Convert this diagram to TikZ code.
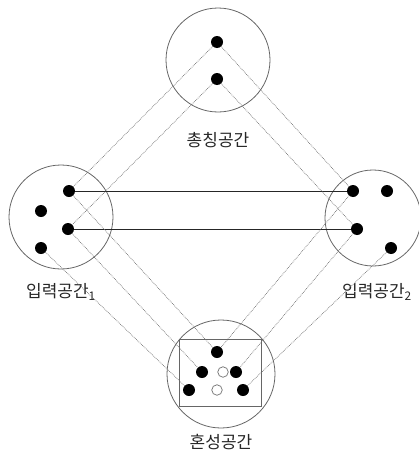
\documentclass[tikz,border=0pt]{standalone}
\usepackage{fontspec}
\newfontfamily\kor{Noto Sans CJK KR}
\usetikzlibrary{positioning}
\definecolor{Ring}{HTML}{666666}
\definecolor{Trace}{HTML}{707070}
\tikzset{
  space/.style={circle,draw=Ring,line width=.8pt,inner sep=0pt},
  pt/.style={circle,fill=black,minimum size=12pt,inner sep=0pt},
  hole/.style={circle,draw=Trace,fill=white,line width=.7pt,minimum size=10.5pt,inner sep=0pt},
  map/.style={densely dotted,draw=Trace,line width=.7pt},
  link/.style={draw=black!85,line width=.8pt},
  frame/.style={draw=Ring,line width=1pt},
  lab/.style={font=\kor\fontsize{17}{19}\selectfont,text=black!85,inner sep=0pt}
}
\begin{document}
\begin{tikzpicture}[x=1pt,y=-1pt]
    \useasboundingbox (0,0) rectangle (419,455);
    % spaces
    \node[space,minimum size=104pt] (gen) at (218,60) {};
    \node[space,minimum size=104pt] (inA) at (61,217) {};
    \node[space,minimum size=96pt] (inB) at (373,218) {};
    \node[space,minimum size=108pt] (bl) at (221,374) {};
    \draw[frame] (179,339) rectangle (261,406);
    % labels
    \node[lab] (genlab) at (218,140) {총칭공간};
    \node[lab] (inAlab) at (61,292) {입력공간\textsubscript{1}};
    \node[lab] (inBlab) at (377,292) {입력공간\textsubscript{2}};
    \node[lab] (bllab) at (221,442) {혼성공간};
    % generic space
    \node[pt] (g1) at (217,42) {}; \node[pt] (g2) at (217,79) {};
    % input space 1
    \node[pt] (a1) at (69,191) {}; \node[pt] (a2) at (41,211) {};
    \node[pt] (a3) at (68,229) {}; \node[pt] (a4) at (41,248) {};
    % input space 2
    \node[pt] (b1) at (353,191) {}; \node[pt] (b2) at (387,191) {};
    \node[pt] (b3) at (357,229) {}; \node[pt] (b4) at (391,248) {};
    % blend
    \node[pt] (c1) at (217,352) {};
    \node[pt] (c2) at (202,372) {}; \node[pt] (c3) at (236,372) {};
    \node[pt] (c4) at (189,390) {}; \node[pt] (c5) at (243,390) {};
    \node[hole] (h1) at (223,372) {}; \node[hole] (h2) at (217,390) {};
    % cross-space links
    \draw[link] (a1)--(b1);
    \draw[link] (a3)--(b3);
    % projections
    \draw[map] (g1)--(a1); \draw[map] (g1)--(b1);
    \draw[map] (g2)--(a3); \draw[map] (g2)--(b3);
    \draw[map] (a1)--(c1); \draw[map] (a3)--(c2); \draw[map] (a4)--(c4);
    \draw[map] (b1)--(c1); \draw[map] (b3)--(c3); \draw[map] (b4)--(c5);
\end{tikzpicture}
\end{document}
